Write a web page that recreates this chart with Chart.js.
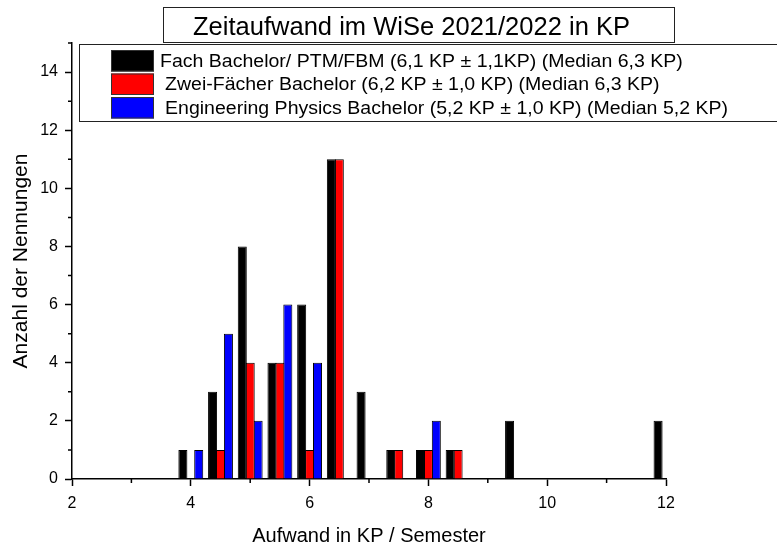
<!DOCTYPE html>
<html>
<head>
<meta charset="utf-8">
<script src="https://cdn.jsdelivr.net/npm/chart.js@4"></script>
<style>
  body { margin: 0; background: #fff; }
  #wrap { width: 777px; height: 544px; position: relative; }
</style>
</head>
<body>
<div id="wrap"><canvas id="myChart"></canvas></div>
<script>
// bin centres (KP / Semester) and counts per study programme
const bins = [4, 4.5, 5, 5.5, 6, 6.5, 7, 7.5, 8, 8.5, 9.5, 12];
const fachBachelor = [1, 3, 8, 4, 6, 11, 3, 1, 1, 1, 2, 2];
const zweiFaecher = [null, 1, 4, 4, 1, 11, null, 1, 1, 1, null, null];
const engPhysics = [1, 5, 2, 6, 4, null, null, null, 2, null, null, null];

const seriesLabels = [
    'Fach Bachelor/ PTM/FBM (6,1 KP \u00b1 1,1KP) (Median 6,3 KP)',
    'Zwei-F\u00e4cher Bachelor (6,2 KP \u00b1 1,0 KP) (Median 6,3 KP)',
    'Engineering Physics Bachelor (5,2 KP \u00b1 1,0 KP) (Median 5,2 KP)'
];
const seriesColors = ['#000000', '#ff0000', '#0000ff'];

const titleText = 'Zeitaufwand im WiSe 2021/2022 in KP';
const xTitle = 'Aufwand in KP / Semester';
const yTitle = 'Anzahl der Nennungen';

const FONT = '"Liberation Sans", Arial, sans-serif';

function toPoints(values) {
    return bins.map((b, i) => ({ x: b, y: values[i] }));
}

// draw text squeezed/stretched to a given width
function fitText(ctx, text, x, y, width) {
    const w = ctx.measureText(text).width;
    ctx.save();
    ctx.translate(x, y);
    ctx.scale(width / w, 1);
    ctx.fillText(text, 0, 0);
    ctx.restore();
}

const overlay = {
    id: 'overlay',
    afterDraw(chart) {
        const ctx = chart.ctx;
        const xs = chart.scales.x;
        const ys = chart.scales.y;

        // minor ticks (odd values), shorter than the major ones
        ctx.save();
        ctx.strokeStyle = '#000';
        ctx.lineWidth = 1.5;
        ctx.beginPath();
        for (let v = 3; v <= 11; v += 2) {
            const px = xs.getPixelForValue(v);
            ctx.moveTo(px, xs.top);
            ctx.lineTo(px, xs.top + 4);
        }
        for (let v = 1; v <= 15; v += 2) {
            const py = ys.getPixelForValue(v);
            ctx.moveTo(ys.right, py);
            ctx.lineTo(ys.right - 4, py);
        }
        ctx.stroke();

        // title box
        ctx.lineWidth = 1;
        ctx.strokeStyle = '#222';
        ctx.strokeRect(163.5, 7.5, 511, 35);
        ctx.fillStyle = '#000';
        ctx.font = '25px ' + FONT;
        ctx.textBaseline = 'alphabetic';
        fitText(ctx, titleText, 193, 35, 437);

        // legend box
        ctx.fillStyle = '#fff';
        ctx.fillRect(79.5, 44.5, 720, 77);
        ctx.strokeStyle = '#222';
        ctx.strokeRect(79.5, 44.5, 720, 77);
        ctx.font = '17.5px ' + FONT;
        const stretch = 563 / ctx.measureText(seriesLabels[2]).width;
        const rowTop = [50, 73.5, 97];
        const textX = [160, 165, 165];
        chart.data.datasets.forEach((ds, i) => {
            ctx.fillStyle = ds.backgroundColor;
            ctx.fillRect(111, rowTop[i], 43, 21.5);
            ctx.strokeStyle = '#333';
            ctx.strokeRect(111.5, rowTop[i] + 0.5, 42, 20.5);
            ctx.fillStyle = '#000';
            const w = ctx.measureText(ds.label).width * stretch;
            fitText(ctx, ds.label, textX[i], rowTop[i] + 16.5, w);
        });
        ctx.restore();
    }
};

const ctx = document.getElementById('myChart').getContext('2d');

new Chart(ctx, {
    type: 'bar',
    data: {
        datasets: [fachBachelor, zweiFaecher, engPhysics].map((vals, i) => ({
            label: seriesLabels[i],
            data: toPoints(vals),
            backgroundColor: seriesColors[i],
            borderColor: '#000',
            borderWidth: 1,
            categoryPercentage: 0.8,
            barPercentage: 1.14
        }))
    },
    options: {
        responsive: true,
        maintainAspectRatio: false,
        animation: false,
        layout: { padding: { left: 0, right: 111, top: 43, bottom: 0 } },
        plugins: {
            legend: { display: false },
            title: { display: false },
            tooltip: { enabled: false }
        },
        scales: {
            x: {
                type: 'linear',
                min: 2,
                max: 12,
                offset: false,
                grid: {
                    offset: false,
                    drawOnChartArea: false,
                    tickLength: 7,
                    tickWidth: 1.5,
                    tickColor: c => (c.tick && c.tick.value % 2 === 0) ? '#000' : 'rgba(0,0,0,0)'
                },
                border: { display: true, color: '#000', width: 1.5 },
                ticks: {
                    stepSize: 1,
                    autoSkip: false,
                    maxRotation: 0,
                    padding: 8,
                    color: '#000',
                    font: { family: FONT, size: 16 },
                    callback: v => (v % 2 === 0 ? v : '')
                },
                title: {
                    display: true,
                    text: xTitle,
                    color: '#000',
                    font: { family: FONT, size: 20, lineHeight: 0.8 },
                    padding: { top: 0, bottom: 0 }
                },
                afterFit: s => { s.height = 65; }
            },
            y: {
                min: 0,
                max: 15,
                grid: {
                    drawOnChartArea: false,
                    tickLength: 7,
                    tickWidth: 1.5,
                    tickColor: c => (c.tick && c.tick.value % 2 === 0) ? '#000' : 'rgba(0,0,0,0)'
                },
                border: { display: true, color: '#000', width: 1.5 },
                ticks: {
                    stepSize: 1,
                    autoSkip: false,
                    padding: 7,
                    color: '#000',
                    font: { family: FONT, size: 16 },
                    callback: v => (v % 2 === 0 ? v : '')
                },
                title: {
                    display: true,
                    text: yTitle,
                    color: '#000',
                    font: { family: FONT, size: 21, lineHeight: 1 },
                    padding: { top: 11, bottom: 0 }
                },
                afterFit: s => { s.width = 72; }
            }
        }
    },
    plugins: [overlay]
});
</script>
</body>
</html>
